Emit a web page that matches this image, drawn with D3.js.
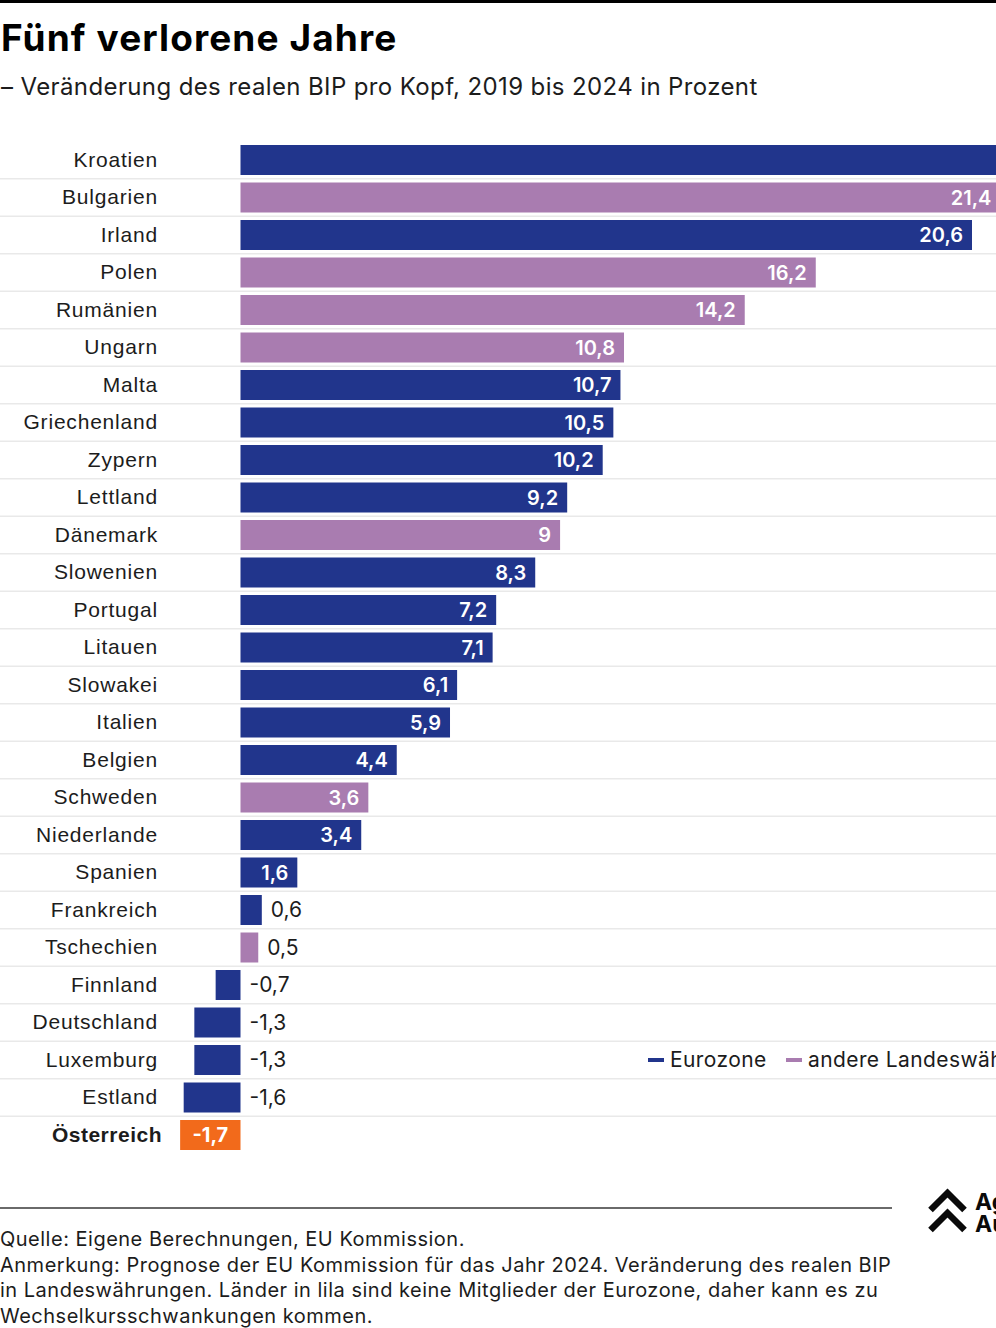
<!DOCTYPE html>
<html lang="de">
<head>
<meta charset="utf-8">
<title>Fünf verlorene Jahre</title>
<script src="https://cdn.jsdelivr.net/npm/d3@7"></script>
<style>
  html, body { margin: 0; padding: 0; background: #fff; overflow: hidden; }
  svg { display: block; font-family: Inter, "Open Sans", sans-serif; }
</style>
</head>
<body>
<svg id="chart" width="996" height="1328"></svg>
<script>
const countries = ['Kroatien', 'Bulgarien', 'Irland', 'Polen', 'Rumänien', 'Ungarn', 'Malta',
    'Griechenland', 'Zypern', 'Lettland', 'Dänemark', 'Slowenien', 'Portugal', 'Litauen',
    'Slowakei', 'Italien', 'Belgien', 'Schweden', 'Niederlande', 'Spanien', 'Frankreich',
    'Tschechien', 'Finnland', 'Deutschland', 'Luxemburg', 'Estland', 'Österreich'];
// Kroatien runs off the right edge, its value is only a guess
const values = [23.4, 21.4, 20.6, 16.2, 14.2, 10.8, 10.7, 10.5, 10.2, 9.2, 9, 8.3, 7.2, 7.1,
    6.1, 5.9, 4.4, 3.6, 3.4, 1.6, 0.6, 0.5, -0.7, -1.3, -1.3, -1.6, -1.7];
const groups = ['e', 'a', 'e', 'a', 'a', 'a', 'e', 'e', 'e', 'e', 'a', 'e', 'e', 'e',
    'e', 'e', 'e', 'a', 'e', 'e', 'e', 'a', 'e', 'e', 'e', 'e', 'o'];
const footnotes = [
    'Quelle: Eigene Berechnungen, EU Kommission.',
    'Anmerkung: Prognose der EU Kommission für das Jahr 2024. Veränderung des realen BIP',
    'in Landeswährungen. Länder in lila sind keine Mitglieder der Eurozone, daher kann es zu',
    'Wechselkursschwankungen kommen.'
];

const colors = { e: '#21358c', a: '#a97cb0', o: '#f26a1b' };
const ink = '#1c1c1c';
const highlight = 'Österreich';

const svg = d3.select('#chart');
const data = countries.map((name, i) => ({ name, value: values[i], group: groups[i] }));

const x = d3.scaleLinear().domain([0, 20.6]).range([240.5, 972]);
const y = d3.scaleBand().domain(countries).range([137.5, 1157.5]).padding(0.2);
const fmt = v => String(v).replace('.', ',');

// Header
svg.append('rect').attr('width', 996).attr('height', 3).attr('fill', '#000');
svg.append('text').attr('x', 1).attr('y', 51)
    .attr('font-size', 37).attr('font-weight', 700).attr('fill', '#000')
    .attr('letter-spacing', 1.1)
    .text('Fünf verlorene Jahre');
svg.append('text').attr('x', 1).attr('y', 95)
    .attr('font-size', 24).attr('fill', ink)
    .attr('letter-spacing', 0.38)
    .text('– Veränderung des realen BIP pro Kopf, 2019 bis 2024 in Prozent');

// Row separators
svg.append('g').selectAll('line')
    .data(countries.slice(0, -1))
    .join('line')
    .attr('x1', 0).attr('x2', 996)
    .attr('y1', d => y(d) + y.bandwidth() + y.step() * 0.1)
    .attr('y2', d => y(d) + y.bandwidth() + y.step() * 0.1)
    .attr('stroke', '#e9e9e9').attr('stroke-width', 1.5);

// Country names
const yAxis = svg.append('g')
    .attr('transform', 'translate(158,0)')
    .call(d3.axisLeft(y).tickSize(0).tickPadding(0));
yAxis.select('.domain').remove();
yAxis.selectAll('text')
    .attr('font-family', 'inherit')
    .attr('font-size', 21)
    .attr('letter-spacing', d => d === highlight ? 0.5 : 0.8)
    .attr('fill', ink)
    .attr('font-weight', d => d === highlight ? 700 : 400)
    .attr('dx', d => d === highlight ? 4 : 0);

// Bars
svg.append('g').selectAll('rect')
    .data(data)
    .join('rect')
    .attr('x', d => Math.min(x(0), x(d.value)))
    .attr('y', d => y(d.name))
    .attr('width', d => Math.abs(x(d.value) - x(0)))
    .attr('height', y.bandwidth())
    .attr('fill', d => colors[d.group]);

// Value labels: inside the long bars, beside the short ones
const inside = d => d.value >= 1 || d.group === 'o';
svg.append('g').selectAll('text')
    .data(data.filter(d => x(d.value) - 9 <= 996))
    .join('text')
    .attr('x', d => {
        if (d.group === 'o') return (x(0) + x(d.value)) / 2;
        if (inside(d)) return x(d.value) - 9;
        return Math.max(x(0), x(d.value)) + 9;
    })
    .attr('y', d => y(d.name) + y.bandwidth() / 2)
    .attr('dy', '0.35em')
    .attr('text-anchor', d => d.group === 'o' ? 'middle' : inside(d) ? 'end' : 'start')
    .attr('font-size', d => inside(d) ? 20 : 21)
    .attr('font-weight', d => d.group === 'o' ? 700 : inside(d) ? 600 : 400)
    .attr('fill', d => inside(d) ? '#fff' : ink)
    .text(d => fmt(d.value));

// Legend
const legendY = y('Luxemburg') + y.bandwidth() / 2;
const legend = [
    { label: 'Eurozone', color: colors.e, at: 648 },
    { label: 'andere Landeswährung', color: colors.a, at: 786 }
];
const legendItem = svg.append('g').selectAll('g')
    .data(legend)
    .join('g')
    .attr('transform', d => `translate(${d.at},${legendY})`);
legendItem.append('rect')
    .attr('y', -2).attr('width', 16).attr('height', 4).attr('fill', d => d.color);
legendItem.append('text')
    .attr('x', 22).attr('dy', '0.35em')
    .attr('font-size', 21).attr('fill', ink)
    .attr('letter-spacing', 0.4)
    .text(d => d.label);

// Footer
svg.append('line')
    .attr('x1', 0).attr('x2', 892).attr('y1', 1208).attr('y2', 1208)
    .attr('stroke', '#6a6a6a').attr('stroke-width', 2);
svg.append('g').selectAll('text')
    .data(footnotes)
    .join('text')
    .attr('x', 0)
    .attr('y', (d, i) => 1246 + i * 25.7)
    .attr('font-size', 20).attr('fill', ink)
    .attr('letter-spacing', 0.5)
    .text(d => d);

// Logo
const logo = svg.append('g').attr('transform', 'translate(947.5,0)')
    .attr('fill', 'none').attr('stroke', '#0a0a0a').attr('stroke-width', 6.5);
logo.append('path').attr('d', 'M-17,1210 L0,1193 L17,1210');
logo.append('path').attr('d', 'M-17,1230 L0,1213 L17,1230');
svg.append('g').selectAll('text')
    .data(['Agenda', 'Austria'])
    .join('text')
    .attr('x', 975)
    .attr('y', (d, i) => 1210 + i * 22)
    .attr('font-size', 23).attr('font-weight', 700).attr('fill', '#0a0a0a')
    .text(d => d);
</script>
</body>
</html>
